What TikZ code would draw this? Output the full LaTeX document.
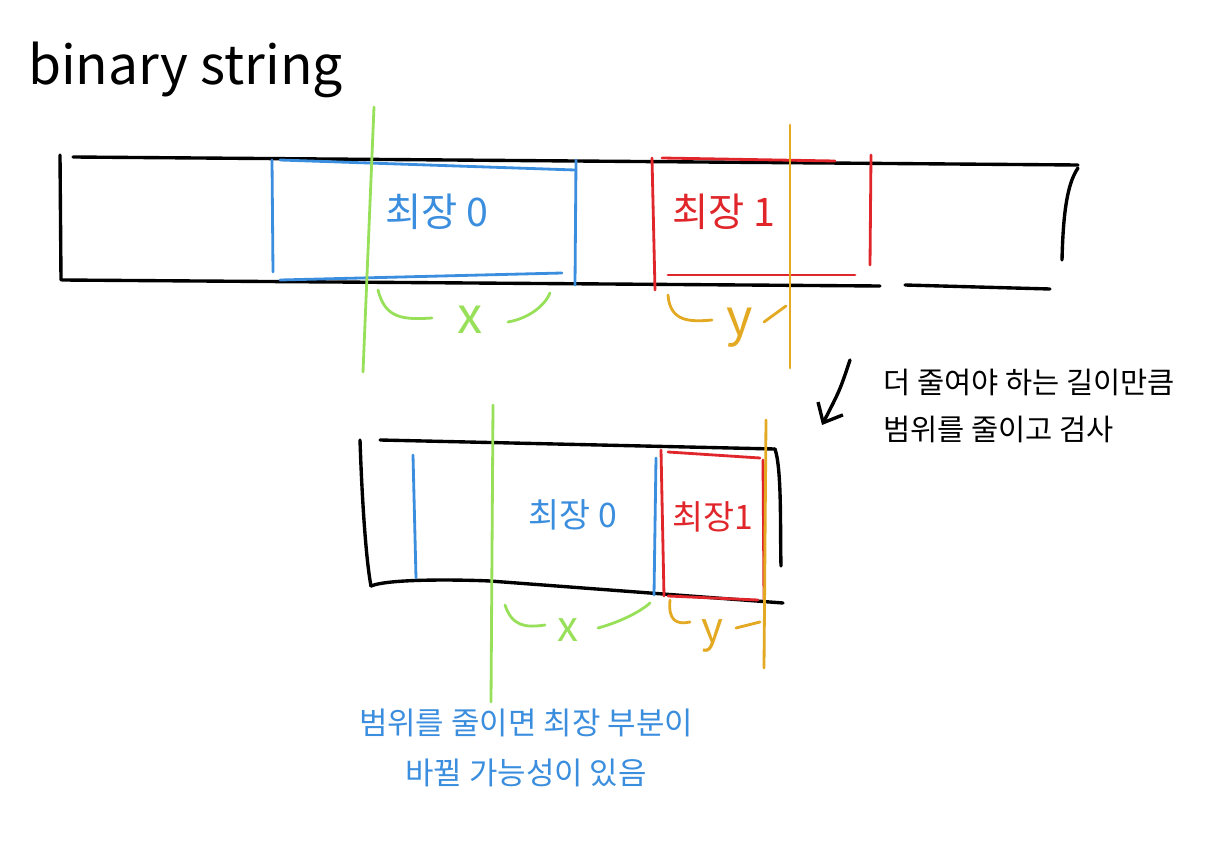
\documentclass[tikz,border=0pt]{standalone}
\usepackage{fontspec}
\setmainfont{Noto Sans CJK KR}
\usepackage{xcolor}
\usepackage{tikz}
\usetikzlibrary{arrows.meta, positioning}

\definecolor{penblue}{HTML}{3B8EDE}
\definecolor{penred}{HTML}{E0262A}
\definecolor{pengreen}{HTML}{98E05A}
\definecolor{penorange}{HTML}{E3A922}

\begin{document}
\begin{tikzpicture}[
    x=0.025cm, y=-0.025cm,
    every node/.style={inner sep=0pt, align=center},
    ink/.style={line width=2.4pt, line cap=round, line join=round, draw=black},
    zero/.style={line width=2pt, line cap=round, line join=round, draw=penblue},
    one/.style={line width=2pt, line cap=round, line join=round, draw=penred},
    cutx/.style={line width=2pt, line cap=round, draw=pengreen},
    cuty/.style={line width=2pt, line cap=round, draw=penorange},
    big/.style={font=\fontsize{28}{32}\selectfont},
    small/.style={font=\fontsize{24}{28}\selectfont},
    span/.style={font=\fontsize{36}{40}\selectfont},
    note/.style={font=\fontsize{21}{34}\selectfont}
]
\useasboundingbox (0,0) rectangle (1218,854);

% --- title ---
\node[anchor=west, font=\fontsize{38}{44}\selectfont] (title) at (28,70) {binary string};

% --- full string (top) ---
\draw[ink] (60,155) -- (61,280);
\draw[ink] (73,157) -- (1078,165);
\draw[ink] (1078,168) .. controls (1066,185) and (1063,220) .. (1062,260);
\draw[ink] (62,280) -- (880,286);
\draw[ink] (905,285) -- (1050,289);

% longest 0 / longest 1 blocks
\draw[zero] (272,160) -- (273,272);
\draw[zero] (280,160) -- (575,170);
\draw[zero] (576,160) -- (575,285);
\draw[zero] (280,280) -- (562,273);
\node[big, text=penblue] (zeroA) at (437,212) {최장 0};

\draw[one] (652,158) -- (655,290);
\draw[one] (662,158) -- (835,161);
\draw[one] (871,155) -- (870,265);
\draw[one] (668,275) -- (855,275);
\node[big, text=penred] (oneA) at (724,212) {최장 1};

% cut lines
\draw[cutx] (374,107) -- (363,372);
\draw[cuty] (790,125) -- (790,368);

% x / y spans
\node[span, text=pengreen] (xA) at (470,320) {x};
\draw[cutx] (378,290) .. controls (385,318) and (402,320) .. (432,318);
\draw[cutx] (508,322) .. controls (530,318) and (545,305) .. (550,293);
\node[span, text=penorange] (yA) at (740,328) {y};
\draw[cuty] (668,295) .. controls (670,322) and (690,322) .. (712,320);
\draw[cuty] (764,322) -- (786,306);

% --- step note ---
\coordinate (arrS) at (850,360);
\coordinate (arrE) at (822,425);
\draw[ink, -{Straight Barb[length=4mm, width=7mm]}] (arrS) .. controls (840,390) .. (arrE);
\node[note, anchor=west, align=left] (step) at (883,406) {더 줄여야 하는 길이만큼\\범위를 줄이고 검사};

% --- shrunk range (bottom) ---
\draw[ink] (360,440) .. controls (362,500) and (366,560) .. (371,586);
\draw[ink] (380,440) -- (775,449);
\draw[ink] (775,449) .. controls (782,470) and (780,530) .. (781,566);
\draw[ink] (371,586) .. controls (390,578) and (470,580) .. (490,581);
\draw[ink] (490,581) -- (783,603);

\draw[zero] (413,455) -- (416,578);
\draw[zero] (656,458) -- (654,595);
\node[small, text=penblue] (zeroB) at (573,515) {최장 0};

\draw[one] (661,450) -- (664,596);
\draw[one] (668,452) -- (760,458);
\draw[one] (763,460) -- (764,600);
\draw[one] (668,596) -- (758,600);
\node[small, text=penred] (oneB) at (713,517) {최장1};

\draw[cutx] (493,405) -- (491,702);
\draw[cuty] (766,420) -- (764,668);

\node[span, text=pengreen, font=\fontsize{30}{34}\selectfont] (xB) at (568,630) {x};
\draw[cutx] (505,605) .. controls (512,626) and (525,628) .. (545,625);
\draw[cutx] (598,628) .. controls (620,622) and (640,612) .. (650,603);
\node[span, text=penorange, font=\fontsize{30}{34}\selectfont] (yB) at (712,636) {y};
\draw[cuty] (670,600) .. controls (668,620) and (676,625) .. (690,622);
\draw[cuty] (736,628) -- (760,622);

% --- warning ---
\node[note, text=penblue, font=\fontsize{22}{36}\selectfont] (warn) at (526,748) {범위를 줄이면 최장 부분이\\바뀔 가능성이 있음};

\end{tikzpicture}
\end{document}
